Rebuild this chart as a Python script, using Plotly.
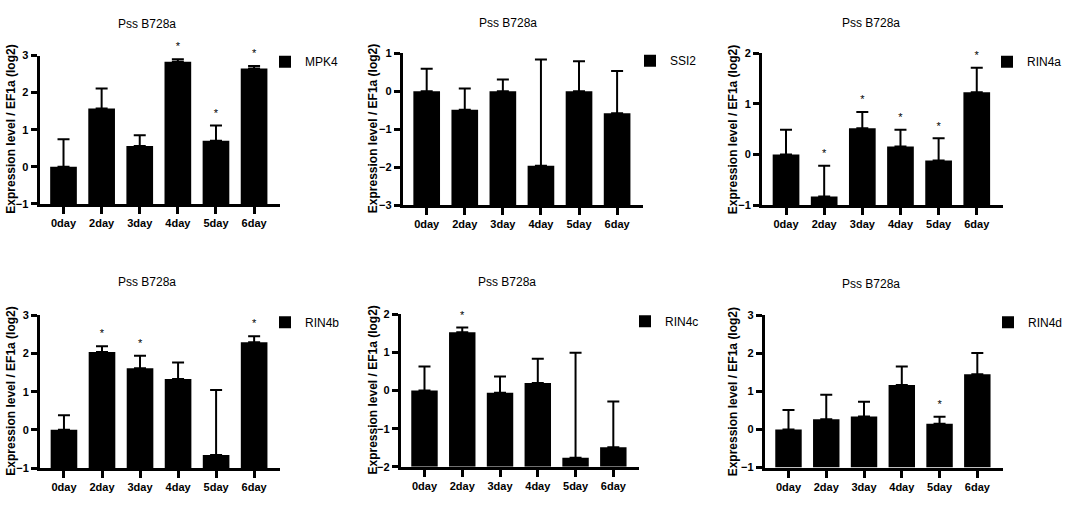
import plotly.graph_objects as go

W, H = 1076, 507

days = ["0day", "2day", "3day", "4day", "5day", "6day"]

genes = ["MPK4", "SSI2", "RIN4a", "RIN4b", "RIN4c", "RIN4d"]

mpk4_mean = [0.0, 1.57, 0.56, 2.83, 0.70, 2.65]
mpk4_err = [0.74, 0.54, 0.29, 0.07, 0.41, 0.07]
mpk4_star = [0, 0, 0, 1, 1, 1]

ssi2_mean = [0.0, -0.49, 0.0, -1.96, 0.0, -0.58]
ssi2_err = [0.59, 0.56, 0.31, 2.79, 0.79, 1.11]
ssi2_star = [0, 0, 0, 0, 0, 0]

rin4a_mean = [0.0, -0.83, 0.52, 0.16, -0.12, 1.23]
rin4a_err = [0.49, 0.61, 0.32, 0.33, 0.44, 0.48]
rin4a_star = [0, 1, 1, 1, 1, 1]

rin4b_mean = [0.0, 2.04, 1.61, 1.33, -0.66, 2.29]
rin4b_err = [0.38, 0.15, 0.33, 0.43, 1.70, 0.16]
rin4b_star = [0, 1, 1, 0, 0, 1]

rin4c_mean = [0.0, 1.53, -0.06, 0.20, -1.76, -1.49]
rin4c_err = [0.63, 0.12, 0.43, 0.63, 2.75, 1.20]
rin4c_star = [0, 1, 0, 0, 0, 0]

rin4d_mean = [0.0, 0.27, 0.34, 1.17, 0.15, 1.45]
rin4d_err = [0.51, 0.64, 0.39, 0.48, 0.18, 0.56]
rin4d_star = [0, 0, 0, 0, 1, 0]

y_ranges = [[-1, 3], [-3, 1], [-1, 2], [-1, 3], [-2, 2], [-1, 3]]

means = [mpk4_mean, ssi2_mean, rin4a_mean, rin4b_mean, rin4c_mean, rin4d_mean]
errs = [mpk4_err, ssi2_err, rin4a_err, rin4b_err, rin4c_err, rin4d_err]
stars = [mpk4_star, ssi2_star, rin4a_star, rin4b_star, rin4c_star, rin4d_star]

title_text = "Pss B728a"
ylabel_text = "Expression level / EF1a (log2)"

# layout in pixels: (x0, x1, ytop, ybottom)
boxes = [
    (39.5, 280, 50.7, 202.7),
    (402.7, 643, 48.3, 204),
    (762, 1002.7, 48.3, 204),
    (40, 280, 316.7, 473.3),
    (400.7, 639, 315.7, 472),
    (764.7, 1003, 316.7, 472.7),
]
title_pos = [(147, 18), (508, 17), (871, 17), (147, 283), (507, 283), (871, 285)]
ylab_x = [11, 373, 733, 11, 373, 733]
legend_y = [57, 56, 57, 324, 323, 324]
legend_text_x = [313, 678, 1035, 313, 673, 1036]

FONT = "Arial, Liberation Sans, sans-serif"

fig = go.Figure()
annotations = []
layout = {}

for i in range(6):
    ax = "" if i == 0 else str(i + 1)
    xa, ya = "x" + ax, "y" + ax
    lg = "legend" if i == 0 else "legend" + str(i + 1)
    ymin = y_ranges[i][0]
    m = means[i]
    e = errs[i]
    fig.add_trace(go.Bar(
        x=days, y=[v - ymin for v in m], base=ymin,
        width=0.7, name=genes[i], marker=dict(color="black", line=dict(width=0)),
        error_y=dict(type="data", symmetric=False, array=e,
                     arrayminus=[0] * len(e), color="black", thickness=2, width=6),
        xaxis=xa, yaxis=ya, legend=lg, showlegend=True,
    ))
    sx = [d for d, s in zip(days, stars[i]) if s]
    sy = [v + er for v, er, s in zip(m, e, stars[i]) if s]
    fig.add_trace(go.Scatter(
        x=sx, y=sy, mode="markers+text", text=["*"] * len(sx), textposition="top center",
        marker=dict(size=8, color="rgba(0,0,0,0)"),
        textfont=dict(family=FONT, size=11, color="black"),
        xaxis=xa, yaxis=ya, showlegend=False, cliponaxis=False, hoverinfo="skip",
    ))
    x0, x1, yt, yb = boxes[i]
    layout["xaxis" + ax] = dict(
        domain=[x0 / W, x1 / W], anchor=ya, range=[-0.63, 5.68],
        showline=True, linewidth=3, linecolor="black", showgrid=False, zeroline=False,
        ticks="outside", ticklen=7, tickwidth=3, tickcolor="black",
        tickfont=dict(family=FONT, size=11, color="black", weight="bold"),
        type="category", fixedrange=True,
    )
    layout["yaxis" + ax] = dict(
        domain=[1 - yb / H, 1 - yt / H], anchor=xa, range=y_ranges[i], dtick=1,
        showline=True, linewidth=3, linecolor="black", showgrid=False, zeroline=False,
        ticks="outside", ticklen=6, tickwidth=3, tickcolor="black",
        tickfont=dict(family=FONT, size=11, color="black", weight="bold"),
        fixedrange=True,
    )
    layout[lg] = dict(
        x=(legend_text_x[i] - 48) / W, y=1 - legend_y[i] / H, xanchor="left", yanchor="middle",
        font=dict(family=FONT, size=12, color="black"), bgcolor="rgba(0,0,0,0)",
        borderwidth=0,
    )
    tx, ty = title_pos[i]
    annotations.append(dict(
        text=title_text, x=tx / W, y=1 - ty / H, xref="paper", yref="paper",
        xanchor="center", yanchor="middle", showarrow=False,
        font=dict(family=FONT, size=12, color="black"),
    ))
    annotations.append(dict(
        text=ylabel_text, x=ylab_x[i] / W, y=1 - ((yt + yb) / 2) / H, xref="paper", yref="paper",
        xanchor="center", yanchor="middle", showarrow=False, textangle=-90,
        font=dict(family=FONT, size=12, color="black", weight="bold"),
    ))

fig.update_layout(
    width=W, height=H, margin=dict(l=0, r=0, t=0, b=0),
    paper_bgcolor="white", plot_bgcolor="white",
    bargap=0.3, annotations=annotations, **layout,
)

fig.write_html(
    "out.html",
    config={"displayModeBar": False},
    post_script="document.body.style.margin='0';document.body.style.overflow='hidden';",
)
